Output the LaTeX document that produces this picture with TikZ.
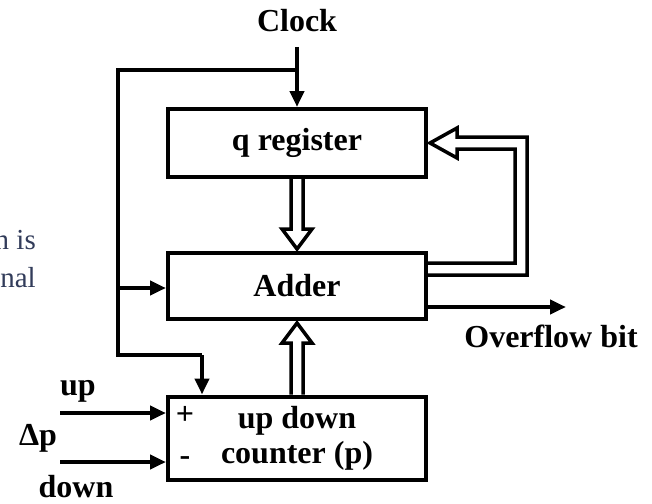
\documentclass[tikz,border=0pt]{standalone}
\usepackage{fontspec}
\setmainfont{Liberation Serif}
\usetikzlibrary{arrows.meta,calc}
\begin{document}
\begin{tikzpicture}[x=1pt,y=-1pt,
  blk/.style={draw,line width=4pt,minimum width=258pt,inner sep=0pt,
    font=\fontsize{32}{35}\selectfont\bfseries,align=center},
  wire/.style={line width=4pt},
  sig/.style={wire,-{Triangle[length=16pt,width=14pt]}},
  bus/.style={line width=3.5pt,line join=miter,miter limit=10},
  lbl/.style={font=\fontsize{32}{35}\selectfont\bfseries,inner sep=0pt},
  prose/.style={font=\fontsize{29}{34}\selectfont,
    text={rgb,255:red,50;green,60;blue,90},inner sep=0pt}]
\useasboundingbox (0,0) rectangle (652,503);

% fragment of the surrounding paragraph
\node[prose,anchor=base east] (p1) at (36,249) {n is};
\node[prose,anchor=base east] (p2) at (36,287) {nal};

% blocks
\node[blk,minimum height=68pt] (qreg)  at (297,143) {q register};
\node[blk,minimum height=66pt] (adder) at (297,286) {Adder};
\node[blk,minimum height=83pt] (ctr)   at (297,438) {up down\\counter (p)};

% labels
\node[lbl,anchor=base] (clk)   at (297,32)  {Clock};
\node[lbl,anchor=base] (ovf)   at (551,347) {Overflow bit};
\node[lbl,anchor=base] (uplbl) at (78,395)  {up};
\node[lbl,anchor=base] (dp)    at (38,445)  {Δp};
\node[lbl,anchor=base] (dnlbl) at (76,497)  {down};
\node[lbl] (plus)  at (185,415) {+};
\node[lbl] (minus) at (185,461) {-};

% clock distribution
\coordinate (split) at (297,70);
\coordinate (ain) at (118,288);
\coordinate (tap) at (202,355);
\draw[sig] ($(clk.base)+(0,15)$) -- (qreg.north);
\draw[wire] (split) -| (tap -| ain) -- (tap);
\draw[sig] (tap) -- (tap |- ctr.north);
\draw[sig] (ain) -- (ain -| adder.west);

% overflow output
\coordinate (oout) at ($(adder.east)+(0,21)$);
\draw[sig] (oout) -- ++(138,0);

% counter inputs
\coordinate (uin) at (60,413);
\coordinate (din) at (60,462);
\draw[sig] (uin) -- (uin -| ctr.west);
\draw[sig] (din) -- (din -| ctr.west);

% data buses
\draw[bus] ($(qreg.south)+(-6,0)$) -- ($(adder.north)+(-6,-22)$) -- ++(-9,0)
  -- ($(adder.north)+(0,-2)$) -- ($(adder.north)+(15,-22)$) -- ++(-9,0)
  -- ($(qreg.south)+(6,0)$);
\draw[bus] ($(ctr.north)+(-6,0)$) -- ($(adder.south)+(-6,22)$) -- ++(-9,0)
  -- ($(adder.south)+(0,2)$) -- ($(adder.south)+(15,22)$) -- ++(-9,0)
  -- ($(ctr.north)+(6,0)$);
\draw[bus] ($(adder.east)+(0,-23)$) -- (515,263) -- (515,149) -- (457,149)
  -- (457,158) -- ($(qreg.east)+(2,0)$) -- (457,128) -- (457,137)
  -- (527,137) -- (527,275) -- ($(adder.east)+(0,-11)$);
\end{tikzpicture}
\end{document}
